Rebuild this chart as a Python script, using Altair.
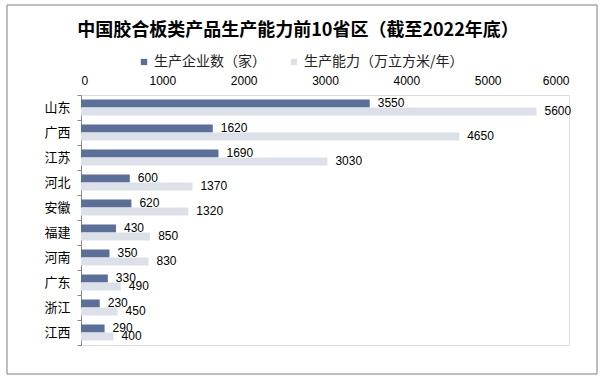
import altair as alt
import pandas as pd

provinces = ["山东", "广西", "江苏", "河北", "安徽", "福建", "河南", "广东", "浙江", "江西"]
enterprises = [3550, 1620, 1690, 600, 620, 430, 350, 330, 230, 290]
capacity = [5600, 4650, 3030, 1370, 1320, 850, 830, 490, 450, 400]
series_names = ["生产企业数（家）", "生产能力（万立方米/年）"]
x_ticks = [0, 1000, 2000, 3000, 4000, 5000, 6000]
colors = ["#5b6f98", "#dce1e9"]

rows = []
for p, e, c in zip(provinces, enterprises, capacity):
    rows.append({"省区": p, "系列": series_names[0], "值": e})
    rows.append({"省区": p, "系列": series_names[1], "值": c})
df = pd.DataFrame(rows)

num_font = "Liberation Sans, Arial, 'Noto Sans CJK SC'"
cjk_font = "'Noto Sans CJK SC', sans-serif"

y_enc = alt.Y("省区:N", sort=provinces, title=None,
              scale=alt.Scale(paddingInner=0, paddingOuter=0),
              axis=alt.Axis(tickBand="extent", domainColor="#888888", tickColor="#888888",
                            tickSize=4, labelPadding=7, labelFont=cjk_font, labelFontSize=13,
                            labelColor="#000000", domainWidth=1, tickWidth=1))
yoff_enc = alt.YOffset("系列:N", sort=series_names,
                       scale=alt.Scale(paddingOuter=0.5625, paddingInner=0))

base = alt.Chart(df)

bars = base.mark_bar().encode(
    x=alt.X("值:Q", title=None,
            scale=alt.Scale(domain=[0, 6000], nice=False),
            axis=alt.Axis(orient="top", values=x_ticks, grid=False, domain=False,
                          ticks=False, tickSize=0, labelPadding=8, labelFont=num_font,
                          labelFontSize=12, labelColor="#000000", format="d")),
    y=y_enc,
    yOffset=yoff_enc,
    color=alt.Color("系列:N", sort=series_names,
                    scale=alt.Scale(domain=series_names, range=colors),
                    legend=alt.Legend(title=None, orient="none", legendX=56, legendY=-40,
                                      direction="horizontal", symbolType="square",
                                      symbolSize=40, symbolStrokeWidth=0,
                                      labelFont=cjk_font, labelFontSize=14,
                                      labelColor="#222222", columnPadding=21,
                                      labelOffset=3)),
)

labels = base.mark_text(align="left", baseline="middle", dx=8, dy=-0.5,
                        font=num_font, fontSize=12, color="#000000").encode(
    x="值:Q",
    y=alt.Y("省区:N", sort=provinces),
    yOffset=yoff_enc,
    text=alt.Text("值:Q", format="d"),
)

frame = alt.Chart(pd.DataFrame({"f": [0]})).mark_rect(
    fill=None, stroke="#7f7f7f", strokeWidth=1, clip=False
).encode(x=alt.value(-74), x2=alt.value(516), y=alt.value(-90), y2=alt.value(279))

chart = alt.layer(bars, labels, frame).properties(
    width=488, height=250,
    title=alt.Title("中国胶合板类产品生产能力前10省区（截至2022年底）",
                    font=cjk_font, fontSize=18, fontWeight="bold", color="#000000",
                    anchor="middle", dx=-27, offset=-35),
    autosize=alt.AutoSizeParams(type="none"),
    padding={"left": 81, "top": 95, "right": 38, "bottom": 33},
).configure_view(stroke=None).configure(background="#ffffff")

chart.save("out.html", embed_options={"renderer": "svg", "actions": False})
